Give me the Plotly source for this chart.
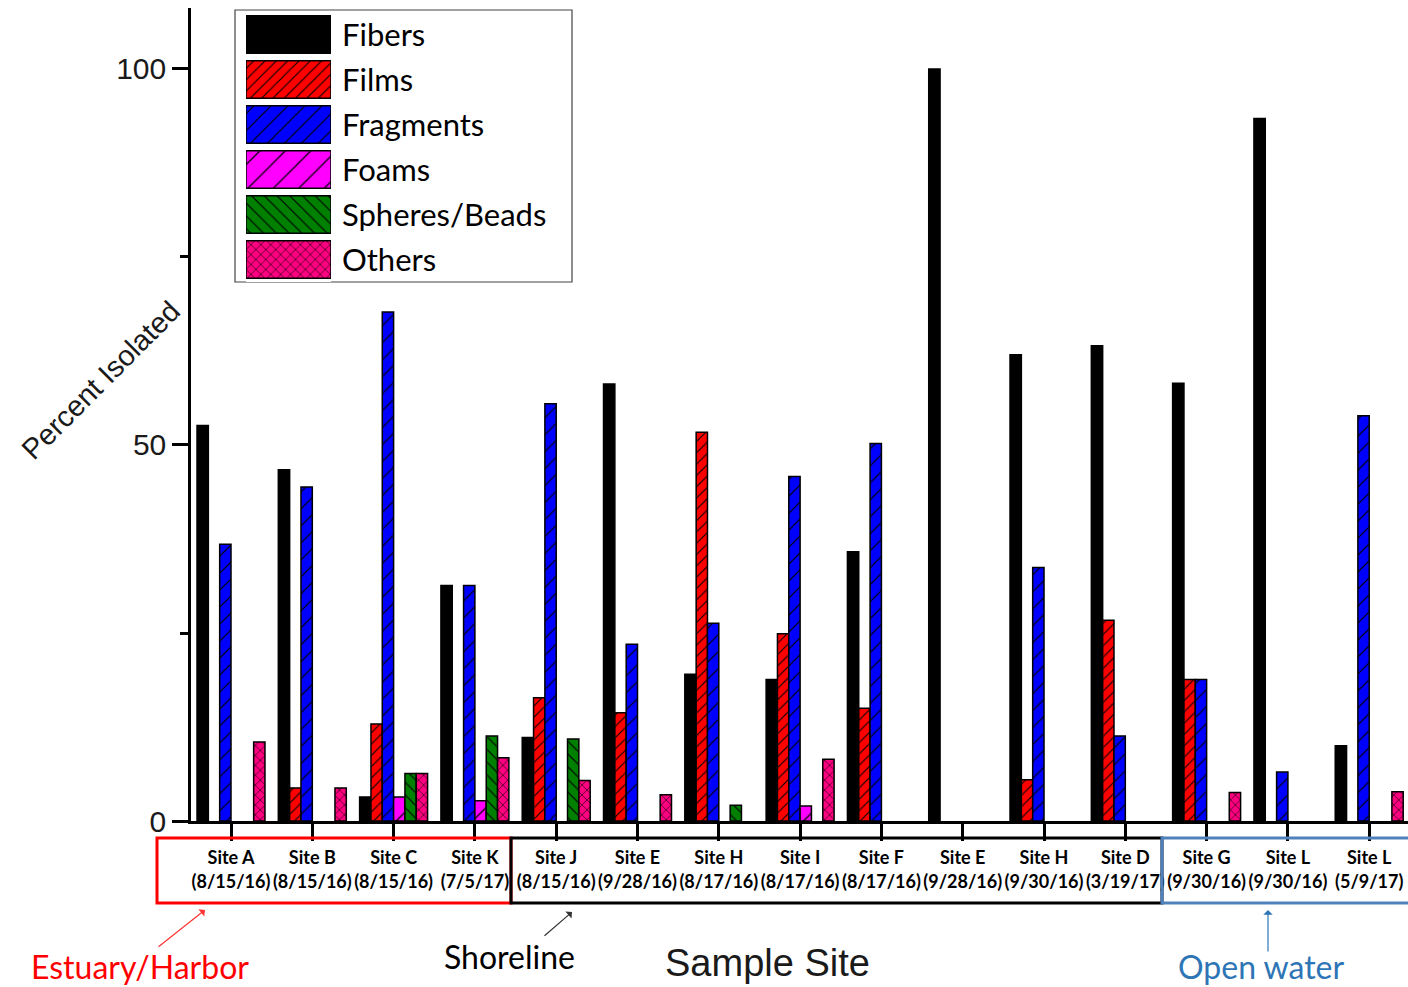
import plotly.graph_objects as go

# ---------------- data ----------------
sites = ["Site A", "Site B", "Site C", "Site K", "Site J", "Site E", "Site H", "Site I",
         "Site F", "Site E", "Site H", "Site D", "Site G", "Site L", "Site L"]
dates = ["(8/15/16)", "(8/15/16)", "(8/15/16)", "(7/5/17)", "(8/15/16)", "(9/28/16)",
         "(8/17/16)", "(8/17/16)", "(8/17/16)", "(9/28/16)", "(9/30/16)", "(3/19/17)",
         "(9/30/16)", "(9/30/16)", "(5/9/17)"]

fibers = [52.6, 46.7, 3.2, 31.3, 11.1, 58.1, 19.5, 18.8, 35.8, 100.0, 62.0, 63.2, 58.2, 93.4, 10.0]
films = [0, 4.4, 12.9, 0, 16.4, 14.4, 51.7, 24.9, 15.0, 0, 5.5, 26.7, 18.8, 0, 0]
fragments = [36.8, 44.4, 67.7, 31.3, 55.5, 23.5, 26.3, 45.8, 50.2, 0, 33.7, 11.3, 18.8, 6.5, 53.9]
foams = [0, 0, 3.2, 2.7, 0, 0, 0, 2.0, 0, 0, 0, 0, 0, 0, 0]
spheres = [0, 0, 6.3, 11.3, 10.9, 0, 2.1, 0, 0, 0, 0, 0, 0, 0, 0]
others = [10.5, 4.4, 6.3, 8.4, 5.4, 3.5, 0, 8.2, 0, 0, 0, 0, 3.8, 0, 3.9]

series_names = ["Fibers", "Films", "Fragments", "Foams", "Spheres/Beads", "Others"]
series_values = [fibers, films, fragments, foams, spheres, others]

y_tick_vals = [0, 50, 100]
y_tick_text = ["0", "50", "100"]

# ---------------- styles ----------------
colors = ["#000000", "#ff0000", "#0000ff", "#ff00ff", "#008000", "#ff0080"]
shapes_pat = ["", "/", "/", "/", "\\", "x"]
sizes_pat = [8, 8, 12, 18, 9, 7]
solid_pat = [0.3, 0.14, 0.1, 0.07, 0.13, 0.16]

W, H = 1408, 987
ML, MR, MT, MB = 191, 0, 8, 166
PW, PH = W - ML - MR, H - MT - MB


def px_x(p):
    return (p - ML) / PW


def px_y(p):
    return (H - MB - p) / PH


def pattern(i):
    return dict(shape=shapes_pat[i], fgcolor="black", bgcolor=colors[i], size=sizes_pat[i],
                solidity=solid_pat[i], fillmode="replace")


fig = go.Figure()
xs = list(range(len(sites)))
for i, (name, vals) in enumerate(zip(series_names, series_values)):
    shown = [v if v > 0 else None for v in vals]
    fig.add_trace(go.Bar(
        x=xs, y=shown, name=name, offsetgroup=str(i),
        marker=dict(color=colors[i], line=dict(color="black", width=1.5), pattern=pattern(i)),
        showlegend=False, hoverinfo="skip"))

# custom legend with big swatches (separate small axes)
for i, name in enumerate(series_names):
    fig.add_trace(go.Bar(
        x=[1], y=[name], orientation="h", offsetgroup="legend",
        xaxis="x3", yaxis="y3", showlegend=False, hoverinfo="skip",
        marker=dict(color=colors[i], line=dict(color="black", width=1.5), pattern=pattern(i))))

ticktext = [f"<span style='font-size:18px'><b>{s}</b></span><br><span style='font-size:18px'><b>{d}</b></span>"
            for s, d in zip(sites, dates)]

xr = [-0.492, 14.477]
fig.update_layout(
    width=W, height=H,
    margin=dict(l=ML, r=MR, t=MT, b=MB),
    paper_bgcolor="white", plot_bgcolor="white",
    barmode="group", bargap=0.164, bargroupgap=0,
    xaxis=dict(range=xr, tickmode="array", tickvals=xs, ticktext=ticktext,
               ticks="outside", ticklen=17, tickwidth=2.5, tickcolor="black",
               showline=True, linewidth=2.5, linecolor="black",
               showgrid=False, zeroline=False,
               tickfont=dict(family="Lato", size=19, color="black"),
               ticklabelstandoff=0),
    xaxis2=dict(range=xr, overlaying="x", anchor="y", side="bottom",
                tickmode="array", tickvals=xs, ticks="inside", ticklen=13,
                tickwidth=2.5, tickcolor="black", showticklabels=False,
                showline=False, showgrid=False, zeroline=False,
                minor=dict(tickmode="array", tickvals=[i + 0.5 for i in xs[:-1]] + [-0.5],
                           ticks="inside", ticklen=7, tickwidth=2.5, tickcolor="black")),
    yaxis=dict(range=[0, 108.11], tickmode="array", tickvals=y_tick_vals, ticktext=y_tick_text,
               ticks="outside", ticklen=16, tickwidth=2.5, tickcolor="black",
               showline=True, linewidth=2.5, linecolor="black",
               showgrid=False, zeroline=False,
               tickfont=dict(family="Liberation Sans", size=30, color="#1a1a1a"),
               minor=dict(tickmode="array", tickvals=[25, 75], ticks="outside",
                          ticklen=8, tickwidth=2.5, tickcolor="black")),
    xaxis3=dict(domain=[px_x(246), px_x(331)], anchor="y3", range=[0, 1],
                visible=False, fixedrange=True),
    yaxis3=dict(domain=[px_y(282), px_y(12)], anchor="x3", visible=False,
                autorange="reversed", type="category", categoryorder="array",
                categoryarray=series_names, fixedrange=True),
)

shapes = []
# legend frame
shapes.append(dict(type="rect", xref="paper", yref="paper",
                   x0=px_x(235), x1=px_x(572), y0=px_y(282), y1=px_y(10),
                   line=dict(color="#444444", width=1.2), fillcolor="rgba(0,0,0,0)", layer="below"))
# grouping boxes
shapes.append(dict(type="rect", xref="paper", yref="paper",
                   x0=px_x(157), x1=px_x(511), y0=px_y(903), y1=px_y(838),
                   line=dict(color="#ff0000", width=3)))
shapes.append(dict(type="rect", xref="paper", yref="paper",
                   x0=px_x(511), x1=px_x(1162), y0=px_y(903), y1=px_y(838),
                   line=dict(color="black", width=3)))
shapes.append(dict(type="rect", xref="paper", yref="paper",
                   x0=px_x(1162), x1=px_x(1425), y0=px_y(903), y1=px_y(838),
                   line=dict(color="#4f81bd", width=3)))
fig.update_layout(shapes=shapes)

ann = []
row_centers = [34, 79, 124, 169, 214, 259]
for name, yc in zip(series_names, row_centers):
    ann.append(dict(text=name, xref="paper", yref="paper", x=px_x(340), y=px_y(yc),
                    xanchor="left", yanchor="middle", showarrow=False,
                    font=dict(family="Lato", size=31, color="black")))
ann.append(dict(text="Percent Isolated", xref="paper", yref="paper", x=px_x(101), y=px_y(380),
                xanchor="center", yanchor="middle", textangle=-45, showarrow=False,
                font=dict(family="Liberation Sans", size=29, color="#1a1a1a")))
ann.append(dict(text="Sample Site", xref="paper", yref="paper", x=px_x(767), y=px_y(963),
                xanchor="center", yanchor="middle", showarrow=False,
                font=dict(family="Liberation Sans", size=38, color="#1a1a1a")))
ann.append(dict(text="Estuary/Harbor", xref="paper", yref="paper", x=px_x(140), y=px_y(966),
                xanchor="center", yanchor="middle", showarrow=False,
                font=dict(family="Lato", size=32, color="#ff0000")))
ann.append(dict(text="Shoreline", xref="paper", yref="paper", x=px_x(509), y=px_y(956),
                xanchor="center", yanchor="middle", showarrow=False,
                font=dict(family="Lato", size=32, color="black")))
ann.append(dict(text="Open water", xref="paper", yref="paper", x=px_x(1261), y=px_y(966),
                xanchor="center", yanchor="middle", showarrow=False,
                font=dict(family="Lato", size=32, color="#2e75b6")))
# arrows
for (hx, hy, tx, ty, col) in [(205, 910, 157, 948, "#ff3333"),
                              (572, 912, 543, 937, "#333333"),
                              (1268, 910, 1268, 953, "#2e75b6")]:
    ann.append(dict(text="", xref="paper", yref="paper", x=px_x(hx), y=px_y(hy),
                    ax=tx - hx, ay=ty - hy, axref="pixel", ayref="pixel",
                    showarrow=True, arrowhead=1, arrowsize=1.3, arrowwidth=1.2,
                    arrowcolor=col))
fig.update_layout(annotations=ann)

fig.write_html("out.html")
